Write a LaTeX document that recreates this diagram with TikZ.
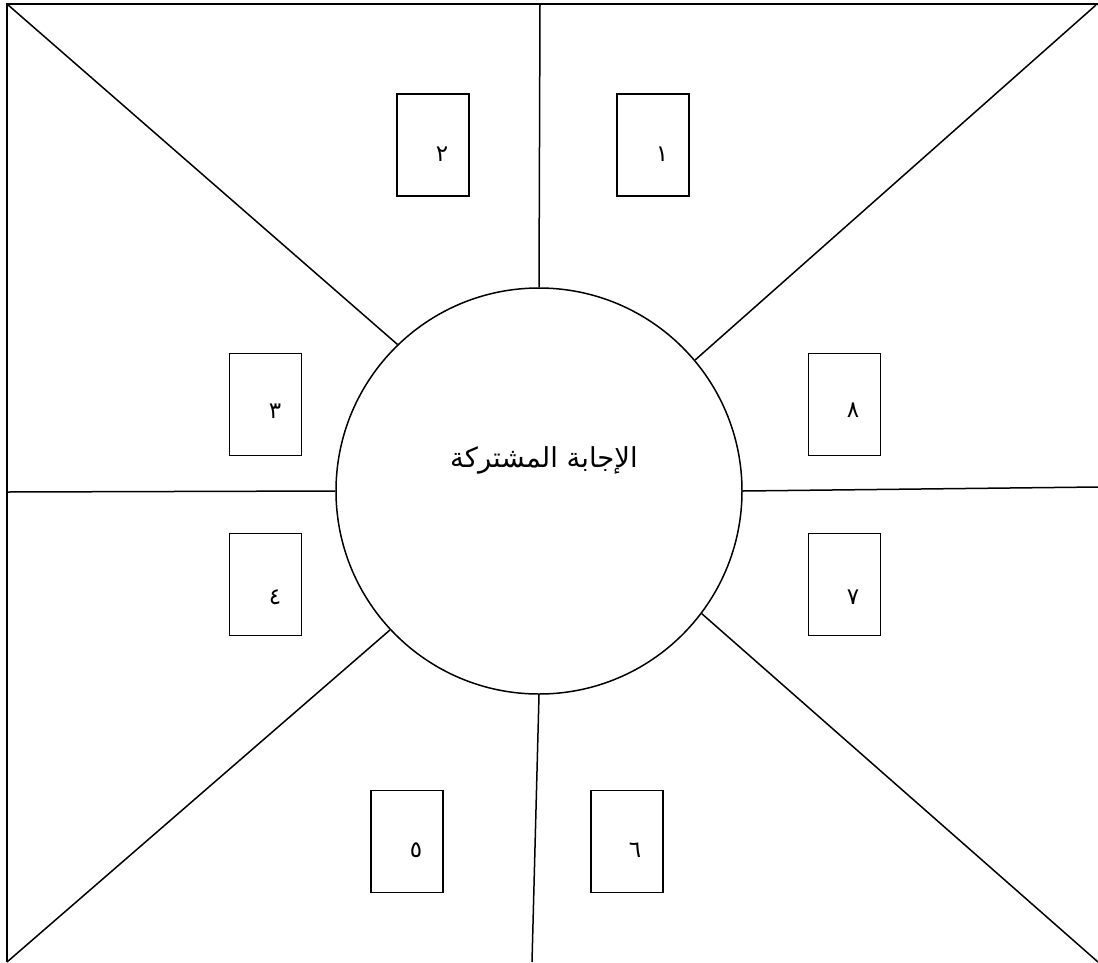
\documentclass[tikz,border=0pt]{standalone}
\usepackage{fontspec}
\newfontfamily\arabicfont[Script=Arabic]{DejaVu Sans}
\TeXXeTstate=1
\tikzset{
  ln/.style={line width=1.5pt, black},
  box/.style={draw, line width=1.5pt, minimum width=72pt, minimum height=102pt, inner sep=0pt},
  num/.style={font=\arabicfont\fontsize{23}{27}\selectfont, inner sep=0pt},
  hub/.style={draw, circle, line width=1.5pt, minimum size=406pt, inner sep=0pt}
}
\begin{document}
\begin{tikzpicture}[x=1pt,y=-1pt]
\useasboundingbox (0,0) rectangle (1098,962);
% frame corners
\coordinate (tl) at (7,4);
\coordinate (tr) at (1098,4);
\coordinate (bl) at (7,962);
\coordinate (trd) at (1096,5);
\coordinate (brd) at (1098,962);
\coordinate (top) at (540,4);
\coordinate (bot) at (532,962);
\coordinate (lft) at (7,492);
\coordinate (rgt) at (1098,487);
\draw[ln] (bl) -- (tl) -- (tr);
% central circle
\node[hub] (c) at (539,491) {};
\node[font=\arabicfont\fontsize{27.5}{32}\selectfont, inner sep=0pt] (ct) at (544,460) {\beginR الإجابة المشتركة\endR};
% spokes
\draw[ln] (tl) -- (c.134.2);
\draw[ln] (trd) -- (c.40.4);
\draw[ln] (bl) -- (c.-137.6);
\draw[ln] (brd) -- (c.-37.3);
\draw[ln] (top) -- (c.90.8);
\draw[ln] (bot) -- (c.-90.8);
\draw[ln] (lft) -- (c.180.3);
\draw[ln] (rgt) -- (c.0.5);
% boxes
\node[box] (b1) at (653,145) {};
\node[box] (b2) at (433,145) {};
\node[box] (b3) at (265.5,404.5) {};
\node[box] (b4) at (265.5,584.5) {};
\node[box] (b5) at (407,841.5) {};
\node[box] (b6) at (627,841.5) {};
\node[box] (b7) at (844.5,584.5) {};
\node[box] (b8) at (844.5,404.5) {};
% digits
\node[num] (n1) at (662,154) {١};
\node[num] (n2) at (442,154) {٢};
\node[num] (n3) at (275,411) {٣};
\node[num] (n4) at (275,597) {٤};
\node[num] (n5) at (416,850) {٥};
\node[num] (n6) at (635,850) {٦};
\node[num] (n7) at (853,597) {٧};
\node[num] (n8) at (853,410) {٨};
\end{tikzpicture}
\end{document}
